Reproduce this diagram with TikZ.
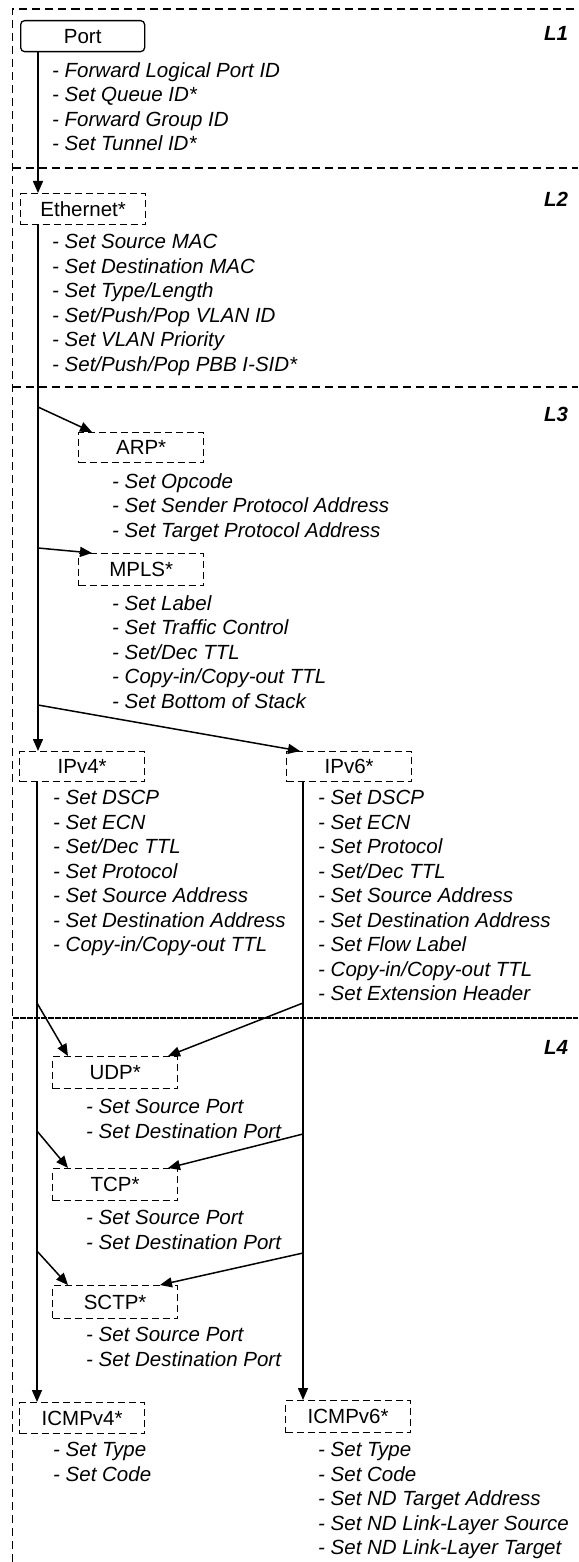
\documentclass[tikz,border=0pt]{standalone}
\usepackage{fontspec}
\setmainfont{Liberation Sans}
\usetikzlibrary{arrows.meta}
\begin{document}
\begin{tikzpicture}[x=1pt,y=-1pt,
  box/.style={draw, dash pattern=on 7pt off 4pt, line width=1.3pt, minimum width=125pt, minimum height=31pt, inner sep=0pt, font=\fontsize{20.5}{24.5}\selectfont, anchor=north west},
  items/.style={align=left, inner sep=0pt, anchor=north west, font=\fontsize{20.5}{24.5}\selectfont\itshape},
  layer/.style={inner sep=0pt, font=\fontsize{20.5}{24.5}\selectfont\bfseries\itshape},
  frame/.style={line width=1.3pt, dash pattern=on 8pt off 5pt},
  arr/.style={line width=1.5pt, -{Triangle[length=12pt,width=10pt]}}
]
\useasboundingbox (0,0) rectangle (578,1562);
% frame and layer dividers
\draw[frame] (12.5,1562) -- (12.5,9) -- (578,9);
\draw[frame] (12.5,168) -- (578,168);
\draw[frame] (12.5,387) -- (578,387);
\draw[line width=1.3pt, dash pattern=on 6pt off 1pt] (12.5,1018) -- (578,1018);
\node[layer] (L1) at (556,33) {L1};
\node[layer] (L2) at (556,199) {L2};
\node[layer] (L3) at (556,414) {L3};
\node[layer] (L4) at (556,1047) {L4};
% boxes
\node[box, solid, rounded corners=4pt, minimum width=124pt] (port) at (20,20) {Port};
\node[box] (eth) at (20,193) {Ethernet*};
\node[box, minimum height=30pt] (arp) at (78,432) {ARP*};
\node[box, minimum height=32pt] (mpls) at (78,553) {MPLS*};
\node[box, minimum height=30pt] (ipv4) at (19,751) {IPv4*};
\node[box, minimum height=30pt] (ipv6) at (286,751) {IPv6*};
\node[box, minimum height=32pt] (udp) at (52,1056) {UDP*};
\node[box, minimum height=32pt] (tcp) at (52,1168) {TCP*};
\node[box, minimum height=33pt] (sctp) at (52,1285) {SCTP*};
\node[box] (icmp4) at (19,1402) {ICMPv4*};
\node[box, minimum height=32pt] (icmp6) at (285,1400) {ICMPv6*};
% item lists
\node[items] (portl) at (52,62) {- Forward Logical Port ID\\- Set Queue ID*\\- Forward Group ID\\- Set Tunnel ID*};
\node[items] (ethl) at (52,234) {- Set Source MAC\\- Set Destination MAC\\- Set Type/Length\\- Set/Push/Pop VLAN ID\\- Set VLAN Priority\\- Set/Push/Pop PBB I-SID*};
\node[items] (arpl) at (112,473) {- Set Opcode\\- Set Sender Protocol Address\\- Set Target Protocol Address};
\node[items] (mplsl) at (112,595) {- Set Label\\- Set Traffic Control\\- Set/Dec TTL\\- Copy-in/Copy-out TTL\\- Set Bottom of Stack};
\node[items] (ipv4l) at (53,790) {- Set DSCP\\- Set ECN\\- Set/Dec TTL\\- Set Protocol\\- Set Source Address\\- Set Destination Address\\- Copy-in/Copy-out TTL};
\node[items] (ipv6l) at (318,790) {- Set DSCP\\- Set ECN\\- Set Protocol\\- Set/Dec TTL\\- Set Source Address\\- Set Destination Address\\- Set Flow Label\\- Copy-in/Copy-out TTL\\- Set Extension Header};
\node[items] (udpl) at (86,1099) {- Set Source Port\\- Set Destination Port};
\node[items] (tcpl) at (86,1210) {- Set Source Port\\- Set Destination Port};
\node[items] (sctpl) at (86,1327) {- Set Source Port\\- Set Destination Port};
\node[items] (icmp4l) at (53,1442) {- Set Type\\- Set Code};
\node[items] (icmp6l) at (318,1442) {- Set Type\\- Set Code\\- Set ND Target Address\\- Set ND Link-Layer Source\\- Set ND Link-Layer Target};
% junction points
\coordinate (jarp) at (38,407);
\coordinate (jmpls) at (38,548);
\coordinate (jv6) at (38,705);
\coordinate (l1) at (37,1003);
\coordinate (r1) at (303,1003);
\coordinate (l2) at (37,1131);
\coordinate (r2) at (303,1134);
\coordinate (l3) at (37,1251);
\coordinate (r3) at (303,1253);
% connectors
\draw[arr] ([xshift=18pt]port.south west) -- ([xshift=18pt]eth.north west);
\draw[arr] ([xshift=18pt]eth.south west) -- ([xshift=19pt]ipv4.north west);
\draw[arr] (jarp) -- ([xshift=14pt]arp.north west);
\draw[arr] (jmpls) -- ([xshift=14pt]mpls.north west);
\draw[arr] (jv6) -- ([xshift=14pt]ipv6.north west);
\draw[arr] ([xshift=18pt]ipv4.south west) -- ([xshift=18pt]icmp4.north west);
\draw[arr] ([xshift=17pt]ipv6.south west) -- ([xshift=18pt]icmp6.north west);
\draw[arr] (l1) -- ([xshift=16pt]udp.north west);
\draw[arr] (r1) -- ([xshift=116pt]udp.north west);
\draw[arr] (l2) -- ([xshift=16pt]tcp.north west);
\draw[arr] (r2) -- ([xshift=116pt]tcp.north west);
\draw[arr] (l3) -- ([xshift=16pt]sctp.north west);
\draw[arr] (r3) -- ([xshift=108pt]sctp.north west);
\end{tikzpicture}
\end{document}
